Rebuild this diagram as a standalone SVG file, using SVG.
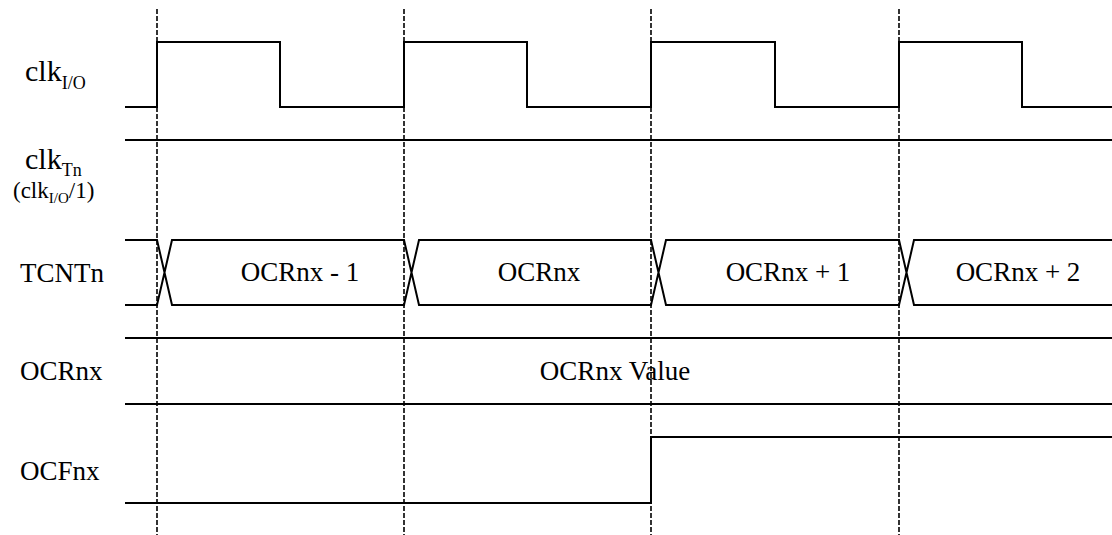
<svg xmlns="http://www.w3.org/2000/svg" width="1112" height="535" viewBox="0 0 1112 535">
<style>
text{font-family:"Liberation Serif","Times New Roman",serif;fill:#000}
.lbl{font-size:27px}
.val{font-size:27px;text-anchor:middle}
.sig{fill:none;stroke:#000;stroke-width:2}
.grid{fill:none;stroke:#000;stroke-width:1.6;stroke-dasharray:5 2}
</style>
<rect width="1112" height="535" fill="#fff"/>
<g id="grid">
<line class="grid" x1="157" y1="9" x2="157" y2="535"/>
<line class="grid" x1="404" y1="9" x2="404" y2="535"/>
<line class="grid" x1="651" y1="9" x2="651" y2="535"/>
<line class="grid" x1="899" y1="9" x2="899" y2="535"/>
</g>
<g id="labels">
<text x="25" y="81" font-size="30">clk<tspan font-size="18" dy="8">I/O</tspan></text>
<text x="25" y="169" font-size="30">clk<tspan font-size="18" dy="7">Tn</tspan></text>
<text x="13" y="198" font-size="23">(clk<tspan font-size="15" dy="5">I/O</tspan><tspan dy="-5">/1)</tspan></text>
<text class="lbl" x="20" y="282">TCNTn</text>
<text class="lbl" x="20" y="380">OCRnx</text>
<text class="lbl" x="20" y="480">OCFnx</text>
</g>
<g id="clkIO">
<polyline class="sig" points="125,107 157,107 157,42 280,42 280,107 404,107 404,42 527,42 527,107 651,107 651,42 775,42 775,107 899,107 899,42 1022,42 1022,107 1112,107"/>
</g>
<g id="clkTn">
<line class="sig" x1="125" y1="140" x2="1112" y2="140"/>
</g>
<g id="TCNTn">
<path class="sig" d="M125,240H157L172,305H404L419,240H651L666,305H899L914,240H1112 M125,305H157L172,240H404L419,305H651L666,240H899L914,305H1112"/>
<text class="val" x="300" y="281">OCRnx - 1</text>
<text class="val" x="539" y="281">OCRnx</text>
<text class="val" x="788" y="281">OCRnx + 1</text>
<text class="val" x="1018" y="281">OCRnx + 2</text>
</g>
<g id="OCRnx">
<line class="sig" x1="125" y1="338" x2="1112" y2="338"/>
<line class="sig" x1="125" y1="404" x2="1112" y2="404"/>
<text class="val" x="615" y="380">OCRnx Value</text>
</g>
<g id="OCFnx">
<polyline class="sig" points="125,503 651,503 651,437 1112,437"/>
</g>
</svg>
